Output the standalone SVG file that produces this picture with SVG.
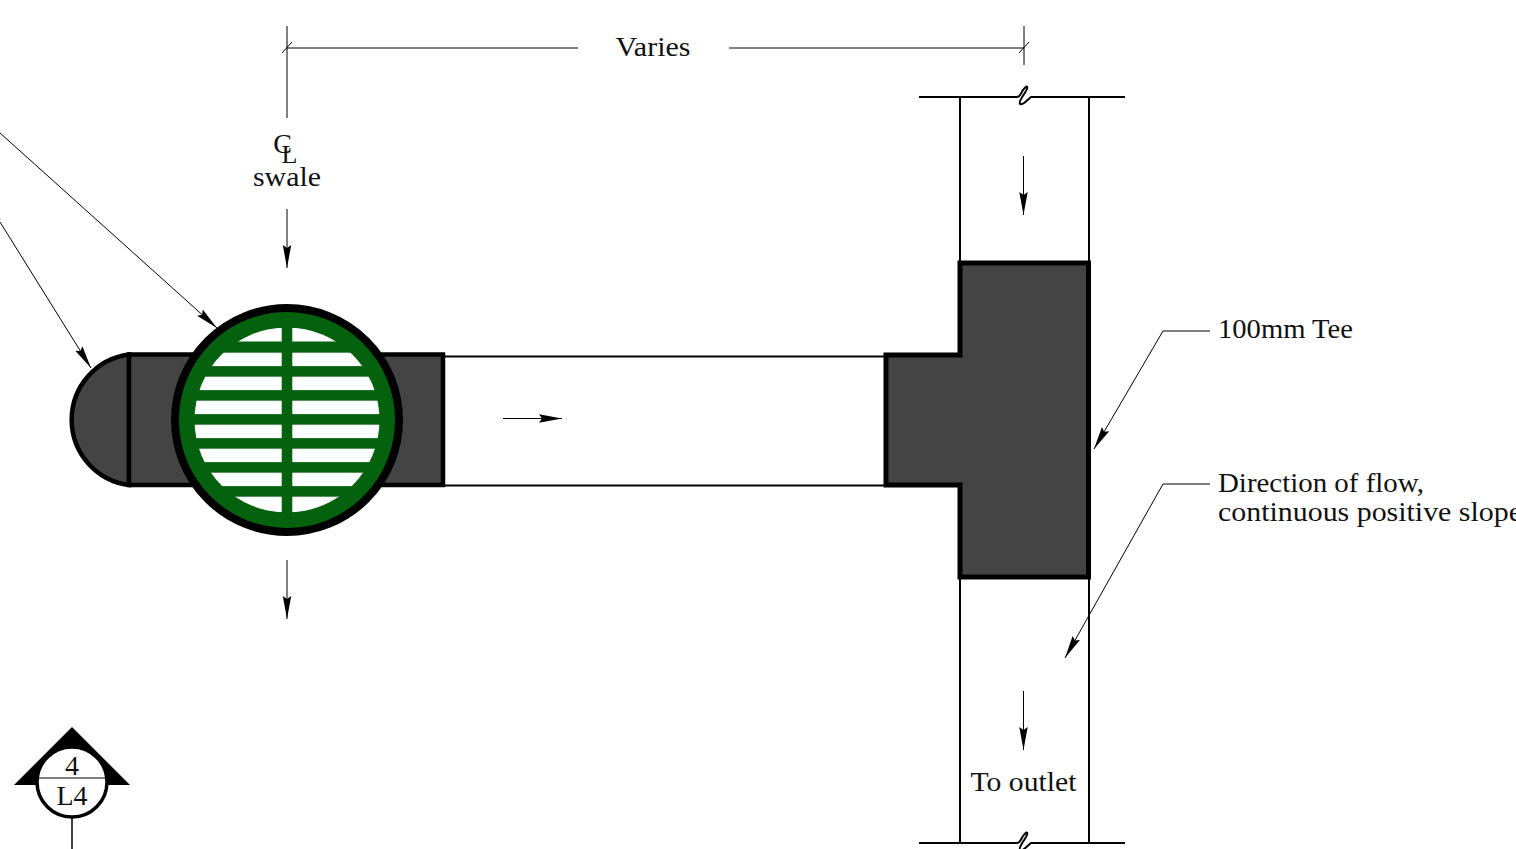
<svg xmlns="http://www.w3.org/2000/svg" width="1516" height="849" viewBox="0 0 1516 849">
<style>
text{font-family:"Liberation Serif","DejaVu Serif",serif;font-size:28px;fill:#111}
.thin{fill:none;stroke:#000;stroke-width:1}
.lead{fill:none;stroke:#000;stroke-width:1;marker-end:url(#ah)}
.pipe{fill:none;stroke:#000;stroke-width:2}
.fitting{fill:#444;stroke:#000;stroke-linejoin:miter}
</style>
<defs>
<marker id="ah" markerUnits="userSpaceOnUse" markerWidth="24" markerHeight="10" refX="23" refY="5" orient="auto">
<path d="M0,0.800 L23,5 L0,9.200 L3,5 Z" fill="#000"/>
</marker>
<clipPath id="grate"><circle cx="287" cy="420" r="92.5"/></clipPath>
</defs>
<rect width="1516" height="849" fill="#fff"/>
<g id="pipe-lateral">
<path class="pipe" d="M443 356.500H886M443 485.500H886"/>
</g>
<g id="pipe-main">
<path class="pipe" d="M960 97V263M1089 97V263M960 577V843M1089 577V843"/>
<path class="pipe" d="M919 97H1016C1020 97 1020 95 1023 90C1026 86 1028 85 1027 89C1025 94 1018 101 1020 104C1023 106 1028 99 1031 97H1125"/>
<path class="pipe" d="M919 843H1016C1020 843 1020 841 1023 836C1026 832 1028 831 1027 835C1025 840 1018 847 1020 850C1023 852 1028 845 1031 843H1125"/>
</g>
<g id="tee">
<path class="fitting" stroke-width="5" d="M960 263H1088.500V577H960V485H886V355H960Z"/>
</g>
<g id="endcap">
<path class="fitting" stroke-width="4.500" d="M129 354.500A65.800 65.800 0 0 0 129 485Z"/>
<rect class="fitting" stroke-width="4.500" x="129" y="354.500" width="314" height="130.500"/>
</g>
<g id="grate-inlet">
<circle cx="287" cy="420" r="112" fill="#04620f" stroke="#000" stroke-width="8"/>
<g clip-path="url(#grate)" fill="#fff">
<rect x="190" y="328" width="91.700" height="13.500"/><rect x="292.300" y="328" width="91.700" height="13.500"/>
<rect x="190" y="352.700" width="91.700" height="13.400"/><rect x="292.300" y="352.700" width="91.700" height="13.400"/>
<rect x="190" y="376.700" width="91.700" height="13.400"/><rect x="292.300" y="376.700" width="91.700" height="13.400"/>
<rect x="190" y="400.700" width="91.700" height="13.400"/><rect x="292.300" y="400.700" width="91.700" height="13.400"/>
<rect x="190" y="424.700" width="91.700" height="13.400"/><rect x="292.300" y="424.700" width="91.700" height="13.400"/>
<rect x="190" y="448.700" width="91.700" height="13.400"/><rect x="292.300" y="448.700" width="91.700" height="13.400"/>
<rect x="190" y="472.700" width="91.700" height="13.400"/><rect x="292.300" y="472.700" width="91.700" height="13.400"/>
<rect x="190" y="496.700" width="91.700" height="16"/><rect x="292.300" y="496.700" width="91.700" height="16"/>
</g>
</g>
<g id="connectors">
<path class="lead" d="M0 133L217 328"/>
<path class="lead" d="M0 222L91 368"/>
<path class="lead" d="M1210 331H1163L1094 449"/>
<path class="lead" d="M1210 484H1163L1065 658"/>
<path class="lead" d="M287 209V268"/>
<path class="lead" d="M287 560V619"/>
<path class="lead" d="M1023.500 156V215"/>
<path class="lead" d="M1023.500 691V750"/>
<path class="lead" d="M503 418.500H562"/>
</g>
<g id="dimension">
<path class="thin" d="M287 48H578M729 48H1024M287 26V118M1024 26V65M282 53L292 42M1019 53L1029 42"/>
<text x="653" y="56" text-anchor="middle" textLength="75" lengthAdjust="spacingAndGlyphs">Varies</text>
</g>
<g id="centerline-label">
<text x="282.500" y="153" text-anchor="middle">C</text>
<text x="289.500" y="163" text-anchor="middle" style="font-size:26px">L</text>
<text x="287" y="186" text-anchor="middle" textLength="68" lengthAdjust="spacingAndGlyphs">swale</text>
</g>
<g id="label-tee"><text x="1218" y="338" textLength="135" lengthAdjust="spacingAndGlyphs">100mm Tee</text></g>
<g id="label-flow">
<text x="1218" y="492" textLength="206" lengthAdjust="spacingAndGlyphs">Direction of flow,</text>
<text x="1218" y="521" textLength="304" lengthAdjust="spacingAndGlyphs">continuous positive slope</text>
</g>
<g id="label-outlet"><text x="1023.500" y="791" text-anchor="middle" textLength="106" lengthAdjust="spacingAndGlyphs">To outlet</text></g>
<g id="section-marker">
<path d="M72 727L130 785H14Z" fill="#000"/>
<circle cx="72" cy="782" r="35" fill="#fff" stroke="#000" stroke-width="3.500"/>
<path class="thin" d="M39 778H106"/>
<path d="M72 818V849" fill="none" stroke="#000" stroke-width="1.500"/>
<text x="72" y="775" text-anchor="middle">4</text>
<text x="72" y="805" text-anchor="middle">L4</text>
</g>
</svg>
